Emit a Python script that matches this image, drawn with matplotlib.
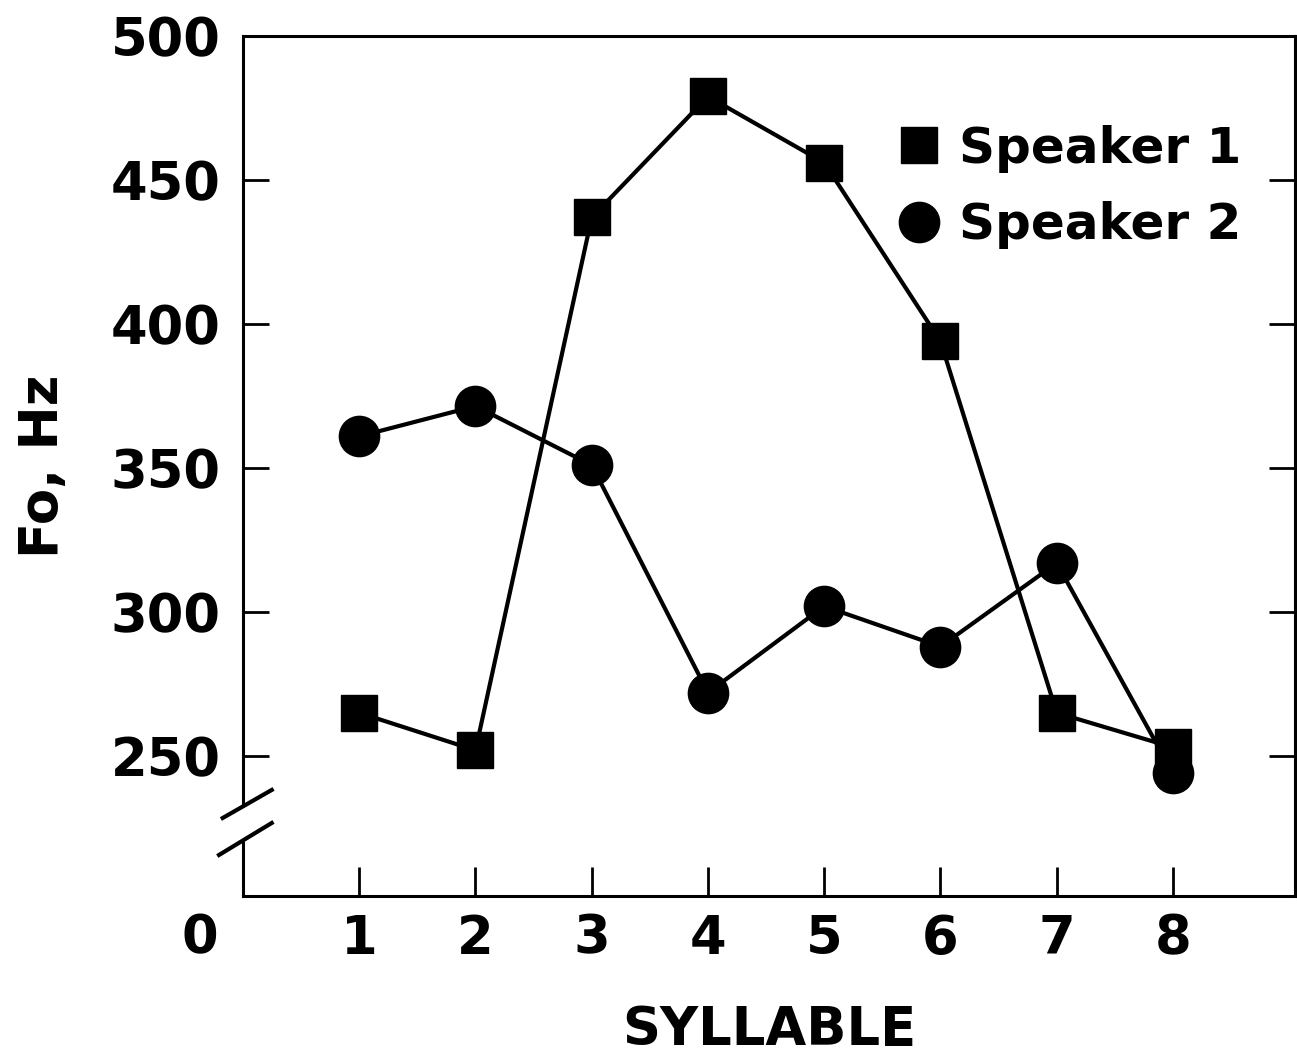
import matplotlib.pyplot as plt
from matplotlib.lines import Line2D

syllable = [1, 2, 3, 4, 5, 6, 7, 8]
speaker1 = [265, 252, 437, 479, 456, 394, 265, 253]
speaker2 = [361, 371.5, 351, 272, 302, 288, 317, 244]
yticks = [250, 300, 350, 400, 450, 500]

plt.rcParams['font.family'] = 'DejaVu Sans'
plt.rcParams['font.weight'] = 'bold'
plt.rcParams['axes.labelweight'] = 'bold'

fig = plt.figure(figsize=(12.97, 10.59), dpi=100)
ax = fig.add_axes([243/1297, 1 - 896/1059, (1295-243)/1297, (896-36)/1059])

ax.plot(syllable, speaker1, color='black', lw=3, marker='s', ms=26, mec='black', mfc='black', zorder=3)
ax.plot(syllable, speaker2, color='black', lw=3, marker='o', ms=29, mec='black', mfc='black', zorder=3)

ax.set_xlim(0, 9.05)
ax.set_ylim(201.4, 500)
ax.set_xticks(syllable)
ax.set_yticks(yticks)
ax.tick_params(axis='both', direction='in', width=2, labelsize=38)
ax.tick_params(axis='x', length=21, pad=12)
ax.tick_params(axis='y', length=19, pad=16, right=True)

for s in ax.spines.values():
    s.set_linewidth(2.2)

# broken y axis
ax.spines['left'].set_bounds(233.7, 500)
ax.add_line(Line2D([0, 0], [0, (219.8-201.4)/(500-201.4)], transform=ax.transAxes,
                   color='black', lw=2.2, clip_on=False))
ax.add_line(Line2D([-0.0193, 0.0273], [0.0907, 0.1233], transform=ax.transAxes,
                   color='black', lw=3, clip_on=False))
ax.add_line(Line2D([-0.0228, 0.0273], [0.0477, 0.0849], transform=ax.transAxes,
                   color='black', lw=3, clip_on=False))
ax.annotate('0', xy=(-0.041, 0), xycoords='axes fraction', xytext=(0, -12),
            textcoords='offset points', ha='center', va='top', fontsize=38)

ax.set_xlabel('SYLLABLE', fontsize=38, labelpad=28)
ax.set_ylabel('Fo, Hz', fontsize=38, labelpad=30)

handles = [Line2D([], [], ls='none', marker='s', ms=26, color='black'),
           Line2D([], [], ls='none', marker='o', ms=29, color='black')]
ax.legend(handles, ['Speaker 1', 'Speaker 2'], loc='upper left', bbox_to_anchor=(0.60, 0.92),
          frameon=False, fontsize=36, handlelength=1.0, handletextpad=0.3, labelspacing=0.57,
          borderaxespad=0)

fig.savefig('out.png', dpi=100)
